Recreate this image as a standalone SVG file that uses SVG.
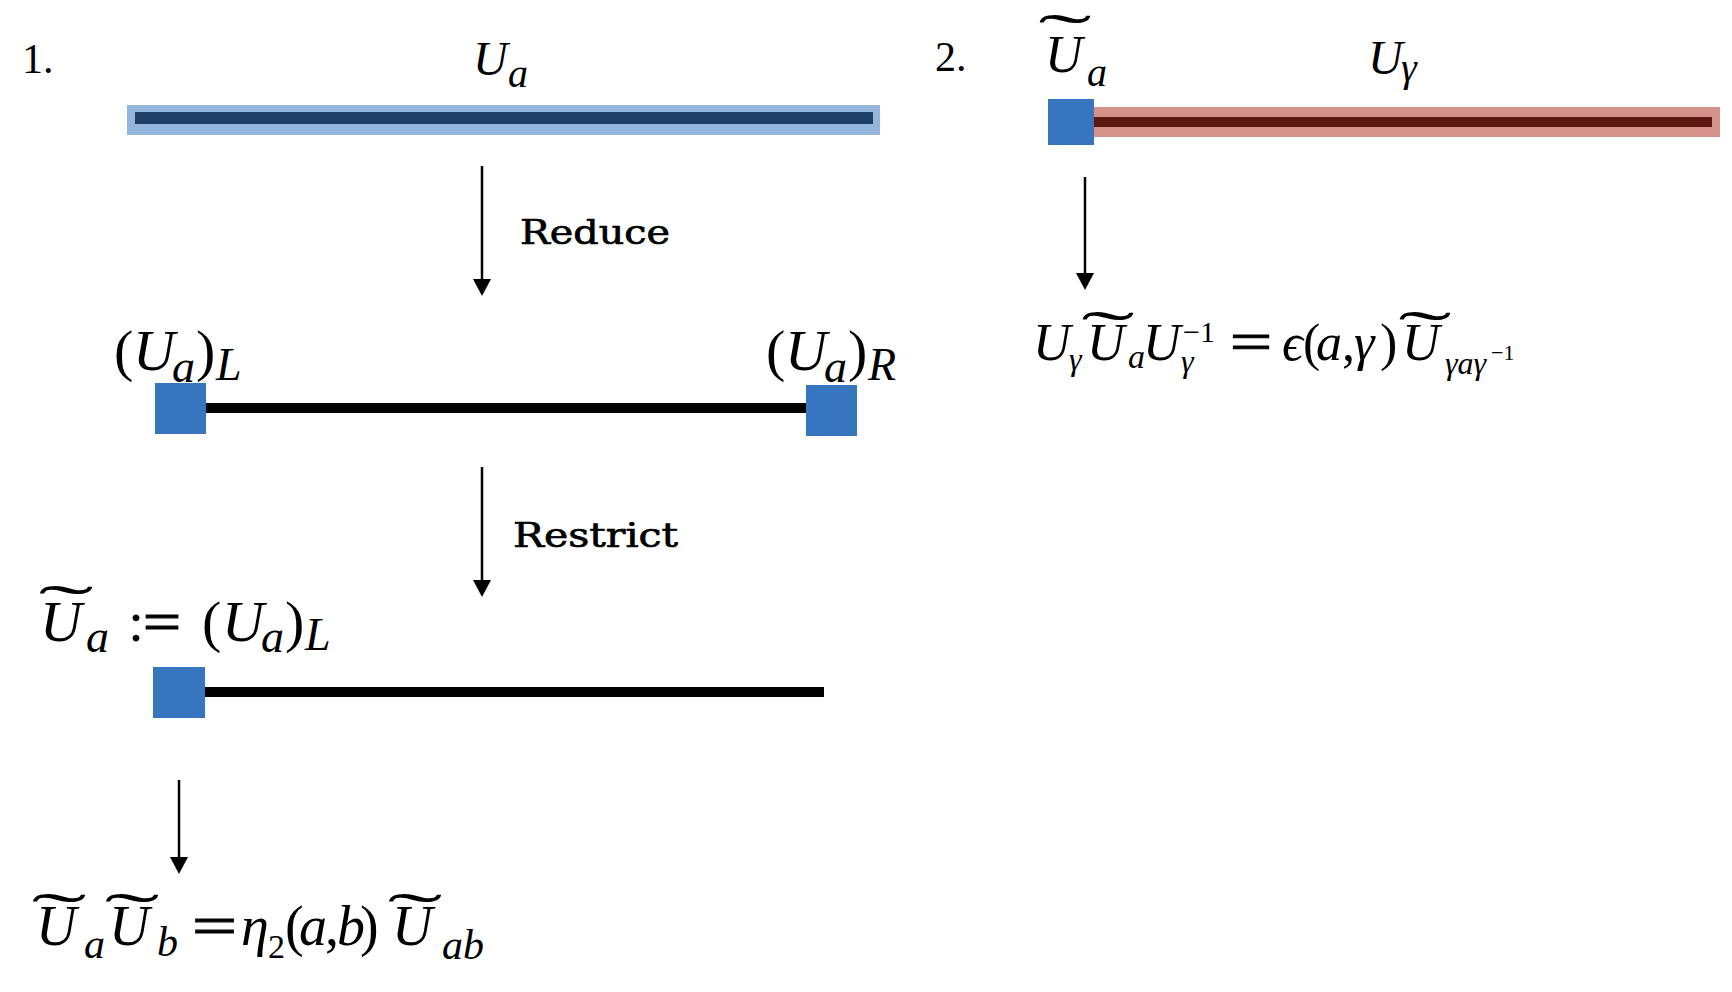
<svg xmlns="http://www.w3.org/2000/svg" width="1732" height="992" viewBox="0 0 1732 992">
<style>
.m{font-family:"Liberation Serif",serif;font-style:italic;fill:#000}
.r{font-family:"Liberation Serif",serif;fill:#000}
.eq{font-family:"Liberation Serif",serif;fill:#000;stroke:#000;stroke-width:1.2}
.tl{font-family:"Liberation Serif",serif;fill:#000;text-anchor:middle;font-size:100px}
.lbl{font-family:"DejaVu Serif",serif;fill:#000;stroke:#000;stroke-width:0.7;font-size:34px}
.conn{stroke:#000;stroke-width:2.5;fill:none}
.sq{fill:#3776bf}
.bar{fill:#000}
</style>
<defs>
<marker id="ah" markerWidth="18" markerHeight="18" refX="0" refY="9" orient="auto" markerUnits="userSpaceOnUse"><path d="M0,0 L17,9 L0,18 z" fill="#000"/></marker>
</defs>
<rect width="1732" height="992" fill="#fff"/>

<g id="label-1"><text class="r" x="22" y="73" font-size="42">1.</text></g>
<g id="label-2"><text class="r" x="935" y="71" font-size="42">2.</text></g>

<g id="node-Ua-full">
<text class="m" x="473" y="75" font-size="48">U</text>
<text class="m" x="508" y="87" font-size="40">a</text>
<rect x="127" y="105" width="753" height="30" fill="#93b5db"/>
<rect x="135" y="112" width="738" height="12" fill="#1f3f66"/>
</g>

<g id="node-Ua-split">
<text class="r" x="114" y="370" font-size="58">(</text>
<text class="m" x="133" y="370" font-size="58">U</text>
<text class="m" x="172" y="382" font-size="46">a</text>
<text class="r" x="196" y="370" font-size="58">)</text>
<text class="m" x="216" y="380" font-size="46">L</text>
<text class="r" x="766" y="370" font-size="58">(</text>
<text class="m" x="785" y="370" font-size="58">U</text>
<text class="m" x="824" y="382" font-size="46">a</text>
<text class="r" x="848" y="370" font-size="58">)</text>
<text class="m" x="868" y="380" font-size="46">R</text>
<rect class="bar" x="200" y="403" width="610" height="10"/>
<rect class="sq" x="155" y="383" width="51" height="51"/>
<rect class="sq" x="806" y="385" width="51" height="51"/>
</g>

<g id="node-Ua-restricted">
<text class="tl" transform="translate(66,628) scale(1.65,0.62)">˜</text>
<text class="m" x="40" y="641" font-size="58">U</text>
<text class="m" x="86" y="652" font-size="46">a</text>
<text class="r" x="128" y="641" font-size="58">:</text>
<text class="eq" x="143" y="641" font-size="58" textLength="38" lengthAdjust="spacingAndGlyphs">=</text>
<text class="r" x="202" y="641" font-size="58">(</text>
<text class="m" x="222" y="641" font-size="58">U</text>
<text class="m" x="261" y="652" font-size="46">a</text>
<text class="r" x="285" y="641" font-size="58">)</text>
<text class="m" x="305" y="650" font-size="46">L</text>
<rect class="bar" x="200" y="687" width="624" height="10"/>
<rect class="sq" x="153" y="667" width="52" height="51"/>
</g>

<g id="node-formula-1">
<text class="tl" transform="translate(59,936) scale(1.65,0.62)">˜</text>
<text class="m" x="36" y="945" font-size="56">U</text>
<text class="m" x="84" y="958" font-size="42">a</text>
<text class="tl" transform="translate(132,936) scale(1.65,0.62)">˜</text>
<text class="m" x="109" y="945" font-size="56">U</text>
<text class="m" x="157" y="956" font-size="42">b</text>
<text class="eq" x="192" y="945" font-size="58" textLength="45" lengthAdjust="spacingAndGlyphs">=</text>
<text class="m" x="241" y="945" font-size="56">η</text>
<text class="r" x="268" y="958" font-size="34">2</text>
<text class="r" x="285" y="945" font-size="56">(</text>
<text class="m" x="299" y="945" font-size="56">a</text>
<text class="r" x="325" y="945" font-size="56">,</text>
<text class="m" x="337" y="945" font-size="56">b</text>
<text class="r" x="360" y="945" font-size="56">)</text>
<text class="tl" transform="translate(415,936) scale(1.65,0.62)">˜</text>
<text class="m" x="392" y="945" font-size="56">U</text>
<text class="m" x="442" y="959" font-size="42">ab</text>
</g>

<g id="node-Ua-gamma">
<text class="tl" transform="translate(1065,57) scale(1.6,0.62)">˜</text>
<text class="m" x="1045" y="72" font-size="52">U</text>
<text class="m" x="1087" y="86" font-size="40">a</text>
<text class="m" x="1368" y="74" font-size="48">U</text>
<text class="m" x="1401" y="81" font-size="40">γ</text>
<rect x="1094" y="107" width="626" height="30" fill="#d4928b"/>
<rect x="1094" y="117" width="618" height="10" fill="#5b1811"/>
<rect class="sq" x="1048" y="99" width="46" height="46"/>
</g>

<g id="node-formula-2">
<text class="m" x="1033" y="360" font-size="52">U</text>
<text class="m" x="1069" y="370" font-size="32">γ</text>
<text class="tl" transform="translate(1108,354) scale(1.6,0.62)">˜</text>
<text class="m" x="1087" y="360" font-size="52">U</text>
<text class="m" x="1128" y="368" font-size="34">a</text>
<text class="m" x="1143" y="360" font-size="52">U</text>
<text class="m" x="1181" y="372" font-size="32">γ</text>
<text class="r" x="1183" y="342" font-size="30">−1</text>
<text class="eq" x="1230" y="360" font-size="54" textLength="42" lengthAdjust="spacingAndGlyphs">=</text>
<text class="m" x="1282" y="360" font-size="52">ϵ</text>
<text class="r" x="1303" y="360" font-size="52">(</text>
<text class="m" x="1316" y="360" font-size="52">a</text>
<text class="r" x="1342" y="360" font-size="52">,</text>
<text class="m" x="1354" y="360" font-size="52">γ</text>
<text class="r" x="1380" y="360" font-size="52">)</text>
<text class="tl" transform="translate(1425,354) scale(1.6,0.62)">˜</text>
<text class="m" x="1402" y="360" font-size="52">U</text>
<text class="m" x="1445" y="374" font-size="32">γaγ</text>
<text class="r" x="1491" y="360" font-size="22">−1</text>
</g>

<g id="connectors">
<line class="conn" x1="482" y1="166" x2="482" y2="279" marker-end="url(#ah)"/>
<text class="lbl" x="520" y="244" textLength="150" lengthAdjust="spacingAndGlyphs">Reduce</text>
<line class="conn" x1="482" y1="467" x2="482" y2="580" marker-end="url(#ah)"/>
<text class="lbl" x="513" y="547" textLength="165" lengthAdjust="spacingAndGlyphs">Restrict</text>
<line class="conn" x1="179" y1="780" x2="179" y2="857" marker-end="url(#ah)"/>
<line class="conn" x1="1085" y1="177" x2="1085" y2="273" marker-end="url(#ah)"/>
</g>
</svg>
